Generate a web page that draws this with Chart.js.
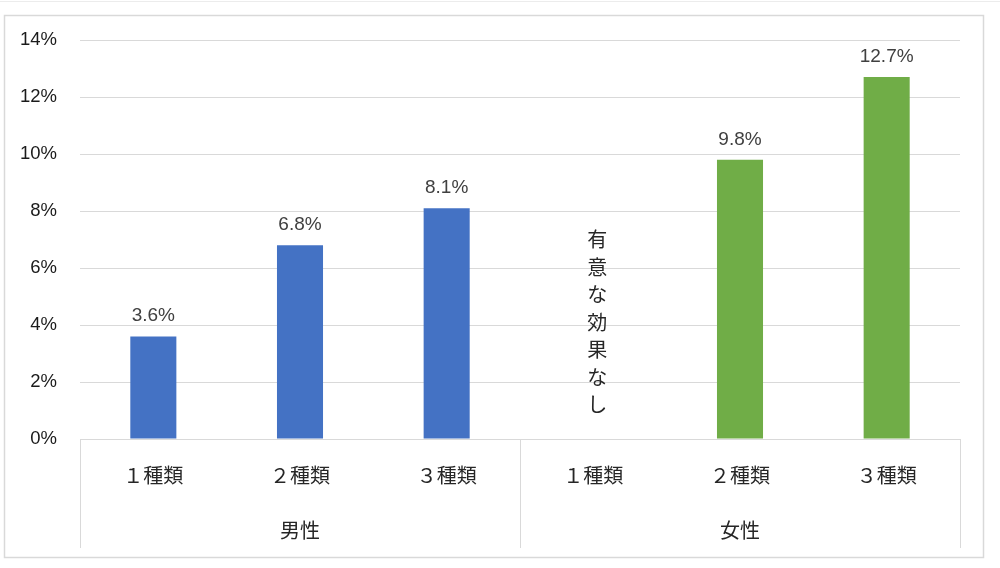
<!DOCTYPE html>
<html>
<head>
<meta charset="utf-8">
<script src="https://cdn.jsdelivr.net/npm/chart.js@4/dist/chart.umd.min.js"></script>
<style>
  html, body { margin:0; padding:0; background:#fff; }
  #wrap { width:1000px; height:568px; position:relative; }
</style>
</head>
<body>
<div id="wrap"><canvas id="chartCanvas" width="1000" height="568"></canvas></div>
<script>
const categories = ["１種類","２種類","３種類","１種類","２種類","３種類"];
const groups = ["男性","女性"];
const groupSize = 3;
const values = [3.6, 6.8, 8.1, null, 9.8, 12.7];
const barColors = ["#4472C4","#4472C4","#4472C4","#70AD47","#70AD47","#70AD47"];
const notes = [null, null, null, "有意な効果なし", null, null];
const yTicks = [0, 2, 4, 6, 8, 10, 12, 14];

const jpFont = '"Noto Sans CJK JP", "Noto Sans", sans-serif';
const numFont = '"Liberation Sans", Arial, sans-serif';

const boxPlugin = {
  id: "boxPlugin",
  beforeDraw(chart) {
    const ctx = chart.ctx;
    ctx.save();
    ctx.fillStyle = "#fff";
    ctx.fillRect(0, 0, chart.width, chart.height);
    ctx.strokeStyle = "#ececec";
    ctx.lineWidth = 1;
    ctx.beginPath(); ctx.moveTo(0, 1.5); ctx.lineTo(chart.width, 1.5); ctx.stroke();
    ctx.strokeStyle = "#d9d9d9";
    ctx.lineWidth = 1.5;
    ctx.strokeRect(4.5, 15.5, 979, 542);
    ctx.restore();
  },
  afterDraw(chart) {
    const ctx = chart.ctx;
    const x = chart.scales.x, y = chart.scales.y;
    const area = chart.chartArea;
    const boxBottom = 548;
    const slot = (area.right - area.left) / categories.length;
    ctx.save();
    // category box lines
    ctx.strokeStyle = "#d9d9d9";
    ctx.lineWidth = 1;
    for (let g = 0; g <= groups.length; g++) {
      const px = Math.round(area.left + g * groupSize * slot) + 0.5;
      ctx.beginPath(); ctx.moveTo(px, area.bottom); ctx.lineTo(px, boxBottom); ctx.stroke();
    }
    // category labels
    ctx.fillStyle = "#262626";
    ctx.font = "20px " + jpFont;
    ctx.textAlign = "center";
    ctx.textBaseline = "middle";
    categories.forEach((c, i) => ctx.fillText(c, x.getPixelForValue(i), 475));
    groups.forEach((g, gi) => {
      const cx = area.left + (gi * groupSize + groupSize / 2) * slot;
      ctx.fillText(g, cx, 530);
    });
    // data labels
    ctx.fillStyle = "#404040";
    ctx.font = "19px " + numFont;
    ctx.textBaseline = "alphabetic";
    values.forEach((v, i) => {
      if (v == null) return;
      ctx.fillText(v.toFixed(1) + "%", x.getPixelForValue(i), y.getPixelForValue(v) - 15);
    });
    // vertical notes
    ctx.fillStyle = "#262626";
    ctx.font = "20px " + jpFont;
    ctx.textBaseline = "middle";
    notes.forEach((n, i) => {
      if (!n) return;
      const chars = Array.from(n);
      const step = 27.5;
      const mid = y.getPixelForValue(4.1);
      const start = mid - (chars.length - 1) * step / 2;
      chars.forEach((ch, k) => ctx.fillText(ch, x.getPixelForValue(i) + 4, start + k * step));
    });
    ctx.restore();
  }
};

new Chart(document.getElementById("chartCanvas"), {
  type: "bar",
  data: {
    labels: categories,
    datasets: [{
      data: values,
      backgroundColor: barColors,
      borderWidth: 0,
      categoryPercentage: 1,
      barPercentage: 0.314
    }]
  },
  options: {
    responsive: false,
    animation: false,
    devicePixelRatio: 1,
    layout: { padding: { left: 0, right: 40, top: 40, bottom: 129 } },
    plugins: { legend: { display: false }, tooltip: { enabled: false } },
    scales: {
      x: { display: false, offset: true },
      y: {
        min: 0, max: 14,
        afterFit(scale) { scale.width = 80; },
        afterBuildTicks(scale) { scale.ticks = yTicks.map(v => ({ value: v })); },
        grid: { color: "#d9d9d9", lineWidth: 1, drawTicks: false },
        border: { display: false },
        ticks: {
          padding: 23,
          color: "#1a1a1a",
          font: { family: numFont, size: 18.5 },
          callback: v => v + "%"
        }
      }
    }
  },
  plugins: [boxPlugin]
});
</script>
</body>
</html>
